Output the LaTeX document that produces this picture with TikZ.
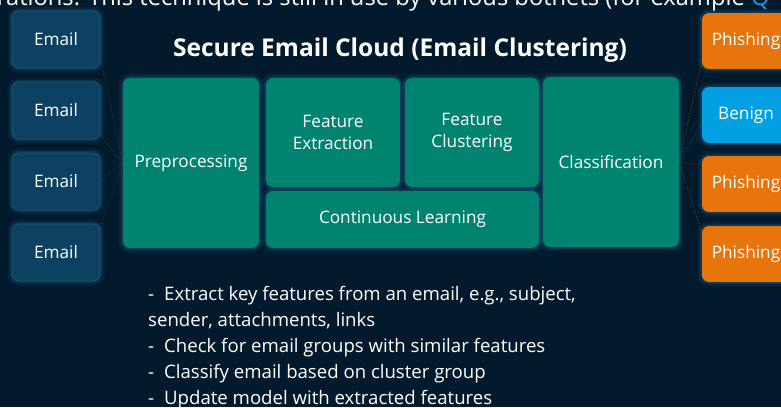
\documentclass[tikz,border=0pt]{standalone}
\usepackage{fontspec}
\setmainfont{Open Sans}
\usetikzlibrary{positioning}

\definecolor{bgnavy}{HTML}{021A2C}
\definecolor{mailblue}{HTML}{0D4162}
\definecolor{mailedge}{HTML}{1D5878}
\definecolor{glowblue}{HTML}{1C6E9E}
\definecolor{stageteal}{HTML}{00836F}
\definecolor{benignblue}{HTML}{00A0E3}
\definecolor{phishorange}{HTML}{E8740C}
\definecolor{linkblue}{HTML}{1E9BE0}

\begin{document}
\begin{tikzpicture}[%
x=1pt, y=-1pt,
node distance=71pt,
on grid,
box/.style={rounded corners=7pt, text=white, align=center, inner sep=0pt,
  font=\fontsize{17.2}{21.5}\selectfont},
glow/.style={preaction={draw=glowblue, line width=9pt, draw opacity=0.12},
  preaction={draw=glowblue, line width=4pt, draw opacity=0.25}},
mail/.style={box, glow, fill=mailblue, draw=mailedge, line width=0.6pt,
  minimum width=88pt, minimum height=57pt},
stage/.style={box, glow, fill=stageteal},
verdict/.style={box, glow, minimum width=88pt, minimum height=56pt},
feed/.style={draw=mailedge, line width=0.5pt, densely dotted},
verdictlink/.style={line width=0.5pt, densely dotted}
]
\useasboundingbox (0,0) rectangle (781,407);
\fill[bgnavy] (0,0) rectangle (781,407);
\clip (0,0) rectangle (781,407);

% cut-off line of the page text
\node[anchor=base east, inner sep=0pt, text=white, font=\fontsize{23.7}{28}\selectfont]
  (toptext) at (745,5) {rations. This technique is still in use by various botnets (for example};
\node[anchor=base west, inner sep=0pt, text=linkblue, font=\fontsize{23.7}{28}\selectfont]
  (toplink) at (751,5) {Q};

% incoming emails
\node[mail] (e1) at (56,39.5) {Email};
\node[mail] (e2) [below=of e1] {Email};
\node[mail] (e3) [below=of e2] {Email};
\node[mail] (e4) [below=of e3] {Email};

\node[text=white, font=\bfseries\fontsize{24.5}{28}\selectfont] (title) at (400,50)
  {Secure Email Cloud (Email Clustering)};

% pipeline
\node[stage, minimum width=136pt, minimum height=170pt] (pre) at (191,163) {Preprocessing};
\node[stage, minimum width=134pt, minimum height=109pt] (fext) at (333,132.5) {Feature\\Extraction};
\node[stage, minimum width=134pt, minimum height=109pt] (fclu) at (472,132.5) {Feature\\Clustering};
\node[stage, minimum width=273pt, minimum height=57pt] (learn) at (402.5,219.5) {Continuous Learning};
\node[stage, minimum width=136pt, minimum height=170pt] (cls) at (611,162) {Classification};

% verdicts
\node[verdict, fill=phishorange] (ph1) at (746,41) {Phishing};
\node[verdict, fill=benignblue] (ben) [below=74pt of ph1] {Benign};
\node[verdict, fill=phishorange] (ph2) [below=69pt of ben] {Phishing};
\node[verdict, fill=phishorange] (ph3) [below=70pt of ph2] {Phishing};

\path ([yshift=10pt]e1.south east) edge [feed] (pre.west);
\path ([yshift=4pt]e2.south east) edge [feed] (pre.west);
\path (e3.east) edge [feed] (pre.west);
\path ([yshift=-3pt]e4.north east) edge [feed] (pre.west);

\path (cls.east) edge [verdictlink, draw=phishorange!70!black] ([yshift=9pt]ph1.south west);
\path (cls.east) edge [verdictlink, draw=benignblue!70!black] ([yshift=20pt]ben.south west);
\path (cls.east) edge [verdictlink, draw=phishorange!45!black] ([yshift=-9pt]ph2.north west);
\path (cls.east) edge [verdictlink, draw=phishorange!70!black] ([yshift=-7pt]ph3.north west);

% notes
\node[anchor=north west, inner sep=0pt, align=left, text=white,
  font=\fontsize{18.6}{25.9}\selectfont] (notes) at (148,286)
  {-\hspace{10pt}Extract key features from an email, e.g., subject,\\
   sender, attachments, links\\
   -\hspace{10pt}Check for email groups with similar features\\
   -\hspace{10pt}Classify email based on cluster group\\
   -\hspace{10pt}Update model with extracted features};
\end{tikzpicture}
\end{document}
